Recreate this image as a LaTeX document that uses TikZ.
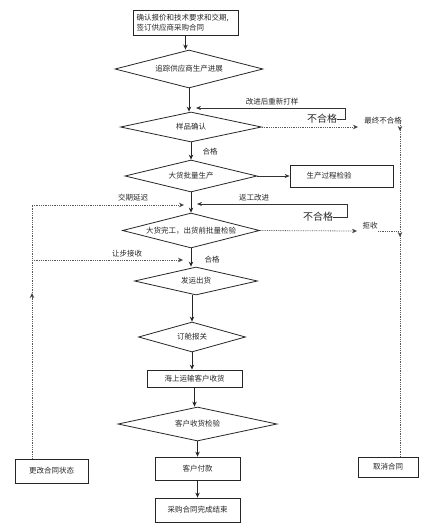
\documentclass[tikz,border=0pt]{standalone}
\usepackage{fontspec}
\newfontfamily\cjk{Noto Sans CJK SC}
\usetikzlibrary{shapes.geometric,arrows.meta,shadows}
\begin{document}
\begin{tikzpicture}[x=1pt,y=-1pt,
  every node/.style={font=\cjk\fontsize{7.5}{10}\selectfont, text=black!85, inner sep=0pt},
  pbox/.style={draw=black!85, line width=0.8pt, fill=white, rectangle,
    drop shadow={shadow xshift=1pt, shadow yshift=-1pt, fill=gray!60, opacity=1}},
  dia/.style={draw=black!85, line width=0.8pt, fill=white, diamond, aspect=4},
  flow/.style={line width=1pt, draw=black!85, -{Stealth[length=5pt,width=4.5pt]}},
  back/.style={line width=0.6pt, draw=black!80, -{Stealth[length=5pt,width=4pt]}},
  dot/.style={line width=0.8pt, draw=black!65, densely dotted},
  dotarrow/.style={dot, -{Stealth[length=5pt,width=4.5pt,fill=black!85,line width=0.4pt,sep=0pt]}},
  lbl/.style={font=\cjk\fontsize{7.5}{9}\selectfont},
  big/.style={font=\cjk\fontsize{10}{12}\selectfont}
]
\useasboundingbox (0,0) rectangle (432,532);

% main column
\node[pbox, minimum width=105pt, minimum height=25pt, align=left, text width=98pt] (n1) at (185.5,22.5)
  {确认报价和技术要求和交期,\\签订供应商采购合同};
\node[dia, minimum width=148pt, minimum height=38pt] (d1) at (189,69) {追踪供应商生产进展};
\node[dia, minimum width=141pt, minimum height=30pt] (d2) at (191,127) {样品确认};
\node[dia, minimum width=132pt, minimum height=32pt] (d3) at (191,176) {大货批量生产};
\node[pbox, minimum width=103pt, minimum height=22pt] (p1) at (341.5,176) {\hspace*{-25pt}生产过程检验};
\node[dia, minimum width=137pt, minimum height=35pt] (d4) at (191,230.5) {大货完工，出货前批量检验};
\node[dia, minimum width=123pt, minimum height=28pt] (d5) at (196,281) {发运出货};
\node[dia, minimum width=107pt, minimum height=30pt] (d6) at (192,337) {订舱报关};
\node[pbox, minimum width=95pt, minimum height=17pt] (b1) at (194.5,378.5) {海上运输客户收货};
\node[dia, minimum width=159pt, minimum height=34pt] (d7) at (197.5,424) {客户收货检验};
\node[pbox, minimum width=85pt, minimum height=23pt] (b2) at (197.5,468.5) {客户付款};
\node[pbox, minimum width=85pt, minimum height=24pt] (b3) at (197.5,510) {采购合同完成结束};

% side boxes
\node[pbox, minimum width=73pt, minimum height=24pt] (L) at (51.5,471) {更改合同状态};
\node[pbox, minimum width=60pt, minimum height=20pt] (R) at (388,467) {取消合同};

% main arrows
\draw[flow] (n1.south) -- (n1.south |- d1.north);
\draw[flow] (d1.south) -- (d1.south |- d2.north);
\draw[flow] (d2.south) -- (d2.south |- d3.north);
\draw[flow] (d3.south) -- (d3.south |- d4.north);
\draw[flow] (d4.south) -- (d4.south |- d5.north);
\draw[flow] (d6.north |- d5.south) -- (d6.north);
\draw[flow] (d6.south) -- (d6.south |- b1.north);
\draw[flow] (b1.south) -- (b1.south |- d7.north);
\draw[flow] (d7.south) -- (d7.south |- b2.north);
\draw[flow] (b2.south) -- (b2.south |- b3.north);
\draw[back] (d3.east) -- (p1.west);

% labels on main flow
\node[lbl] (ok1) at (210,152) {合格};
\node[lbl] (ok2) at (212,260) {合格};

% rework loop 1
\node[big] (ng1) at (322,119) {不合格};
\coordinate (r1) at (345,108);
\coordinate (r1e) at (196,108);
\draw[back, line width=0.7pt] (ng1.east) -| (r1) -- (r1e);
\node[lbl] (t1) at (272,102) {改进后重新打样};

% rework loop 2
\node[big] (ng2) at (318,217) {不合格};
\coordinate (r2) at (347,204);
\coordinate (r2e) at (197,204);
\draw[back, line width=0.7pt] (ng2.east) -| (r2) -- (r2e);
\node[lbl] (t2) at (254,198) {返工改进};

% right dotted branch
\coordinate (s2) at (358,127);
\draw[dotarrow] (d2.east) -- (s2);
\node[lbl] (t3) at (383,121) {最终不合格};
\coordinate (s4) at (357,231);
\draw[dotarrow] (d4.east) -- (s4);
\node[lbl] (t4) at (370,226) {拒收};
\coordinate (rt) at (400,123);
\coordinate (rt2) at (400,131);
\coordinate (rj) at (378,231);
\coordinate (rj1) at (400,231);
\coordinate (rj2) at (400,237);
\draw[dot] (rt) -- (rt |- R.north);
\draw[dot] (rj) -- (rj1);
\draw[dotarrow] (rt) -- (rt2);
\draw[dotarrow] (rj1) -- (rj2);

% left dotted branch
\coordinate (lt) at (32,205);
\coordinate (le1) at (184,205);
\coordinate (lm) at (32,260);
\coordinate (le2) at (183,260);
\coordinate (la1) at (32,300);
\coordinate (la2) at (32,293);
\draw[dot] (lt |- L.north) -- (lt);
\draw[dotarrow] (lt) -- (le1);
\draw[dotarrow] (lm) -- (le2);
\draw[dotarrow] (la1) -- (la2);
\node[lbl] (t5) at (133,198) {交期延迟};
\node[lbl] (t6) at (127,254) {让步接收};
\end{tikzpicture}
\end{document}
